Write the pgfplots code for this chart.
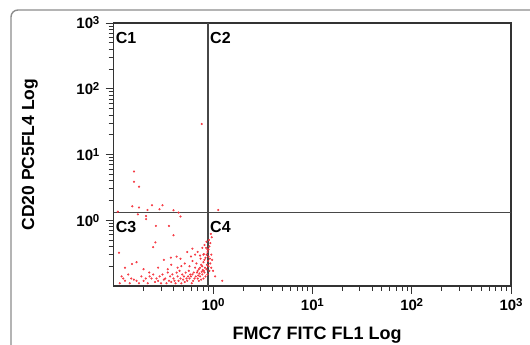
\documentclass[border=0pt]{standalone}
\usepackage{fontspec}
\setmainfont{Liberation Sans}
\usepackage{pgfplots}
\pgfplotsset{compat=1.18}
\definecolor{dotred}{RGB}{245,50,60}
\newcommand{\tl}[1]{10\kern-0.3pt\raisebox{0.27em}{\fontsize{11.5}{11.5}\selectfont #1}}
\begin{document}
\begin{tikzpicture}[x=1pt,y=1pt]
\useasboundingbox (0,0) rectangle (530,345);
\draw[black!45, line width=1.4pt, rounded corners=7pt] (11,-5) -- (11,335) -- (545,335);
\begin{loglogaxis}[
  at={(113.7pt,59pt)}, anchor=south west,
  width=397.3pt, height=263pt, scale only axis,
  xmin=0.1, xmax=1000, ymin=0.1, ymax=1000,
  xtick={1,10,100,1000}, ytick={1,10,100,1000},
  xticklabels={\tl{0},\tl{1},\tl{2},\tl{3}},
  yticklabels={\tl{0},\tl{1},\tl{2},\tl{3}},
  minor xtick={0.2,0.3,0.4,0.5,0.6,0.7,0.8,0.9,2,3,4,5,6,7,8,9,20,30,40,50,60,70,80,90,200,300,400,500,600,700,800,900},
  minor ytick={0.2,0.3,0.4,0.5,0.6,0.7,0.8,0.9,2,3,4,5,6,7,8,9,20,30,40,50,60,70,80,90,200,300,400,500,600,700,800,900},
  xtick pos=bottom, ytick pos=left,
  tick align=outside,
  major tick length=8pt, minor tick length=5pt,
  every tick/.style={black!80, line width=0.8pt},
  axis line style={black!80, line width=1.3pt},
  ticklabel style={font=\fontsize{15}{15}\selectfont\bfseries},
  xticklabel style={yshift=-1pt},
  yticklabel style={xshift=-3pt},
  xlabel={FMC7 FITC FL1 Log}, ylabel={CD20 PC5FL4 Log},
  label style={font=\fontsize{18}{18}\selectfont\bfseries},
  xlabel style={at={(axis description cs:0.512,-0.186)}, anchor=center},
  ylabel style={at={(axis description cs:-0.211,0.5)}, anchor=center, font=\fontsize{17.5}{17.5}\selectfont\bfseries},
]
\addplot[black!72, line width=1.2pt] coordinates {(0.89,0.1) (0.89,1000)};
\addplot[black!72, line width=1.2pt] coordinates {(0.1,1.3) (1000,1.3)};
\addplot[only marks, color=dotred, mark=*, mark size=0.85pt, mark options={draw=none, fill=dotred, fill opacity=0.8}] coordinates {
(0.72,0.18) (0.74,0.19) (0.70,0.17) (0.76,0.21) (0.78,0.20) (0.80,0.23) (0.82,0.25) (0.84,0.27)
(0.86,0.30) (0.88,0.33) (0.90,0.36) (0.92,0.40) (0.94,0.45) (0.91,0.50) (0.85,0.38) (0.80,0.30)
(0.75,0.26) (0.68,0.22) (0.66,0.19) (0.64,0.16) (0.62,0.15) (0.60,0.14) (0.58,0.13) (0.55,0.12)
(0.52,0.115) (0.50,0.125) (0.48,0.11) (0.45,0.12) (0.42,0.11) (0.40,0.13) (0.38,0.115) (0.36,0.12)
(0.34,0.11) (0.32,0.125) (0.30,0.11) (0.28,0.12) (0.26,0.115) (0.24,0.13) (0.22,0.11) (0.20,0.12)
(0.18,0.11) (0.16,0.125) (0.145,0.11) (0.13,0.12) (0.12,0.14) (0.115,0.11) (0.70,0.13) (0.72,0.12)
(0.74,0.14) (0.76,0.125) (0.78,0.15) (0.80,0.13) (0.82,0.16) (0.84,0.14) (0.86,0.18) (0.88,0.15)
(0.90,0.20) (0.92,0.17) (0.94,0.22) (0.96,0.19) (0.93,0.26) (0.89,0.24) (0.87,0.21) (0.83,0.19)
(0.81,0.17) (0.79,0.175) (0.77,0.165) (0.73,0.155) (0.71,0.145) (0.69,0.16) (0.67,0.14) (0.65,0.13)
(0.63,0.12) (0.61,0.11) (0.59,0.15) (0.57,0.17) (0.56,0.14) (0.54,0.13) (0.53,0.16) (0.51,0.14)
(0.49,0.15) (0.47,0.13) (0.46,0.17) (0.44,0.14) (0.43,0.16) (0.41,0.12) (0.39,0.15) (0.37,0.14)
(0.35,0.16) (0.33,0.13) (0.31,0.15) (0.29,0.14) (0.27,0.13) (0.25,0.15) (0.23,0.14) (0.21,0.13)
(0.19,0.14) (0.17,0.12) (0.15,0.13) (0.14,0.15) (0.125,0.13)
(0.62,0.37) (0.88,0.36) (0.81,0.305) (0.43,0.28) (0.47,0.26) (0.376,0.27) (0.40,0.59) (0.263,0.46)
(0.25,0.39) (0.113,0.32) (0.32,0.25) (0.153,0.216) (0.228,0.16) (0.55,0.33) (0.60,0.28) (0.66,0.30)
(0.70,0.33) (0.74,0.29) (0.78,0.38) (0.82,0.42) (0.86,0.47) (0.97,0.55) (0.95,0.62) (0.90,0.28)
(0.96,0.30) (0.98,0.25) (1.0,0.17) (1.05,0.14) (1.24,0.12) (0.52,0.22) (0.58,0.20) (0.62,0.24)
(0.48,0.20) (0.44,0.19) (0.38,0.21) (0.35,0.18) (0.28,0.19) (0.20,0.18) (0.17,0.23) (0.13,0.19)
(0.266,0.82) (0.36,0.82)
(0.16,5.5) (0.16,3.85) (0.18,3.24) (0.154,1.63) (0.18,1.56) (0.243,1.69) (0.31,1.69) (0.219,1.43)
(0.11,1.35) (0.212,1.16) (0.212,1.04) (0.289,1.47) (0.175,1.23) (0.40,1.42) (0.45,1.31) (0.47,1.14)
(1.13,1.43) (0.77,29)
};
\node[anchor=north west, inner sep=0pt, font=\fontsize{16}{16}\selectfont\bfseries] at ([xshift=2pt,yshift=-9pt]axis cs:0.1,1000) {C1};
\node[anchor=north west, inner sep=0pt, font=\fontsize{16}{16}\selectfont\bfseries] at ([xshift=2pt,yshift=-9pt]axis cs:0.89,1000) {C2};
\node[anchor=north west, inner sep=0pt, font=\fontsize{16}{16}\selectfont\bfseries] at ([xshift=2pt,yshift=-8pt]axis cs:0.1,1.3) {C3};
\node[anchor=north west, inner sep=0pt, font=\fontsize{16}{16}\selectfont\bfseries] at ([xshift=2pt,yshift=-8pt]axis cs:0.89,1.3) {C4};
\end{loglogaxis}
\end{tikzpicture}
\end{document}
